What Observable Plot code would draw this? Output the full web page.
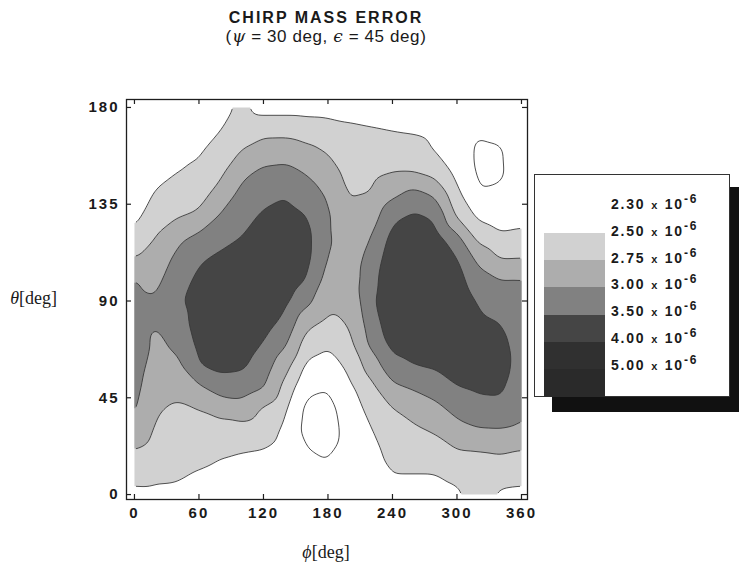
<!DOCTYPE html>
<html>
<head>
<meta charset="utf-8">
<script src="https://cdn.jsdelivr.net/npm/d3@7"></script>
<script src="https://cdn.jsdelivr.net/npm/@observablehq/plot@0.6"></script>
<style>
  html, body { margin: 0; padding: 0; background: #fff; }
  #wrap { position: relative; width: 739px; height: 567px; overflow: hidden; color: #1a1a1a;
          font-family: "Liberation Sans", Arial, sans-serif; }
  #chart { position: absolute; left: 0; top: 0; }
  .title { position: absolute; left: 0; width: 652px; text-align: center; white-space: nowrap; }
  #t1 { top: 10px; font-size: 16px; line-height: 16px; font-weight: bold; letter-spacing: 2px; }
  #t2 { top: 28px; font-size: 17px; line-height: 17px; letter-spacing: 0.6px; }
  #t2 i { font-family: "DejaVu Serif", "Liberation Serif", serif; }
  .axlab { position: absolute; font-family: "Liberation Serif", "DejaVu Serif", serif; font-size: 18px; line-height: 18px; white-space: nowrap; }
  #ylab { right: 682px; top: 289px; text-align: right; }
  #xlab { left: 0; width: 652px; text-align: center; top: 543px; }
  #shadow { position: absolute; left: 552px; top: 187px; width: 200px; height: 225px; background: #111; }
  #legend { position: absolute; left: 534px; top: 174px; width: 194px; height: 221px; background: #fff; border: 1px solid #333; }
  .sw { position: absolute; left: 9px; width: 61px; }
  .lab { position: absolute; left: 76px; font-size: 14px; line-height: 16px; font-weight: bold; letter-spacing: 1.8px; white-space: nowrap; }
  .lab .x { font-size: 11px; }
  .lab sup { font-size: 12px; line-height: 0; vertical-align: 6px; }
</style>
</head>
<body>
<div id="wrap">
  <div id="chart"></div>
  <div class="title" id="t1">CHIRP MASS ERROR</div>
  <div class="title" id="t2">(<i>ψ</i> = 30 deg, <i>ϵ</i> = 45 deg)</div>
  <div class="axlab" id="ylab"><i>θ</i>[deg]</div>
  <div class="axlab" id="xlab"><i>ϕ</i>[deg]</div>
  <div id="shadow"></div>
  <div id="legend"></div>
</div>
<script>
// Grid of azimuth phi (deg) and polar angle theta (deg)
const phiDeg = [0, 20, 40, 60, 80, 100, 120, 140, 160, 180, 200, 220, 240, 260, 280, 300, 320, 340, 360];
const thetaDeg = [0, 10, 20, 30, 40, 50, 60, 70, 80, 90, 100, 110, 120, 130, 140, 150, 160, 170, 180];

// Chirp mass error (units of 1e-6), one row per theta, values across phi
const err_t000 = [2.26,2.27,2.27,2.24,2.20,2.20,2.20,2.20,2.18,2.17,2.18,2.20,2.25,2.25,2.25,2.27,2.37,2.27,2.26];
const err_t010 = [2.36,2.33,2.32,2.29,2.26,2.25,2.25,2.22,2.15,2.13,2.17,2.21,2.30,2.30,2.30,2.34,2.42,2.38,2.36];
const err_t020 = [2.48,2.39,2.37,2.36,2.32,2.30,2.29,2.24,2.11,2.08,2.17,2.24,2.36,2.38,2.41,2.48,2.49,2.52,2.48];
const err_t030 = [2.70,2.46,2.42,2.43,2.43,2.42,2.38,2.27,2.03,2.02,2.17,2.29,2.42,2.46,2.52,2.66,2.73,2.74,2.70];
const err_t040 = [2.79,2.52,2.47,2.50,2.57,2.64,2.47,2.33,2.05,2.04,2.20,2.36,2.49,2.59,2.68,2.83,2.92,2.93,2.79];
const err_t050 = [2.83,2.58,2.56,2.71,2.89,2.88,2.77,2.43,2.15,2.11,2.26,2.44,2.70,2.78,2.87,3.00,3.04,3.05,2.83];
const err_t060 = [2.87,2.64,2.69,3.00,3.06,3.04,2.88,2.58,2.26,2.22,2.34,2.60,2.93,3.00,3.03,3.08,3.11,3.13,2.87];
const err_t070 = [2.88,2.70,2.80,3.06,3.14,3.12,2.99,2.79,2.39,2.32,2.43,2.81,3.07,3.09,3.11,3.17,3.12,3.08,2.88];
const err_t080 = [2.84,2.76,2.87,3.12,3.21,3.21,3.10,2.94,2.56,2.45,2.52,2.87,3.16,3.18,3.18,3.25,3.05,3.00,2.84];
const err_t090 = [2.79,2.77,2.95,3.12,3.21,3.30,3.20,3.06,2.82,2.56,2.57,2.93,3.25,3.26,3.26,3.17,2.97,2.88,2.79];
const err_t100 = [2.76,2.69,2.89,3.05,3.13,3.20,3.30,3.15,3.00,2.65,2.63,2.87,3.25,3.35,3.26,3.09,2.85,2.75,2.76];
const err_t110 = [2.49,2.59,2.81,2.97,3.04,3.10,3.21,3.25,3.07,2.73,2.64,2.82,3.16,3.24,3.17,3.01,2.67,2.48,2.49];
const err_t120 = [2.34,2.50,2.68,2.80,2.92,3.00,3.12,3.16,3.07,2.78,2.59,2.74,3.07,3.14,3.08,2.81,2.40,2.32,2.34];
const err_t130 = [2.24,2.41,2.47,2.53,2.77,2.91,3.03,3.08,3.00,2.78,2.53,2.62,2.94,3.03,2.96,2.45,2.26,2.22,2.24];
const err_t140 = [2.22,2.31,2.38,2.42,2.58,2.82,2.92,2.98,2.87,2.71,2.48,2.50,2.69,2.82,2.70,2.34,2.11,2.13,2.22];
const err_t150 = [2.21,2.26,2.295,2.33,2.45,2.69,2.80,2.83,2.73,2.60,2.43,2.44,2.49,2.49,2.41,2.26,2.07,2.07,2.21];
const err_t160 = [2.19,2.22,2.26,2.28,2.37,2.50,2.61,2.62,2.55,2.48,2.38,2.37,2.38,2.36,2.29,2.20,2.07,2.08,2.19];
const err_t170 = [2.17,2.19,2.22,2.24,2.29,2.40,2.42,2.42,2.39,2.37,2.33,2.31,2.29,2.28,2.26,2.19,2.12,2.15,2.17];
const err_t180 = [2.15,2.15,2.18,2.20,2.25,2.33,2.23,2.23,2.23,2.23,2.23,2.22,2.22,2.22,2.21,2.18,2.20,2.20,2.15];

// Contour levels, shading and legend text
const contourLevels = [2.10, 2.30, 2.50, 2.75, 3.00, 3.50];
const shadeBreaks = [2.30, 2.50, 2.75, 3.00, 3.50, 4.00];
const shadeColors = ["#ffffff", "#d1d1d1", "#adadad", "#818181", "#454545", "#303030", "#2a2a2a"];
const legendLabels = ["2.30", "2.50", "2.75", "3.00", "3.50", "4.00", "5.00"];
const xTicks = [0, 60, 120, 180, 240, 300, 360];
const yTicks = [0, 45, 90, 135, 180];

const rows = [err_t000, err_t010, err_t020, err_t030, err_t040, err_t050, err_t060, err_t070, err_t080, err_t090,
              err_t100, err_t110, err_t120, err_t130, err_t140, err_t150, err_t160, err_t170, err_t180];
const samples = [];
thetaDeg.forEach((t, j) => phiDeg.forEach((p, i) => samples.push({phi: p, theta: t, err: rows[j][i]})));

const W = 739, H = 567, mL = 126, mR = 212, mT = 99, mB = 68;
const frameW = W - mL - mR, frameH = H - mT - mB, tickLen = 5;

const bounds = {x1: phiDeg[0], x2: phiDeg[phiDeg.length - 1], y1: thetaDeg[0], y2: thetaDeg[thetaDeg.length - 1]};
const contourOpts = {x: "phi", y: "theta", fill: "err", thresholds: contourLevels,
                     interpolate: "barycentric", pixelSize: 1, blur: 4, ...bounds};

const chart = Plot.plot({
  width: W, height: H,
  marginLeft: mL, marginRight: mR, marginTop: mT, marginBottom: mB,
  x: {domain: [-7.4, 365.6]},
  y: {domain: [-2.3, 183.7]},
  color: {type: "threshold", domain: shadeBreaks, range: shadeColors},
  style: {fontFamily: "'Liberation Sans', Arial, sans-serif", fontSize: "15px", fontWeight: "bold",
          letterSpacing: "2px", color: "#1a1a1a", background: "transparent"},
  marks: [
    // shaded bands
    Plot.contour(samples, {...contourOpts, stroke: "none"}),
    // contour lines
    Plot.contour(samples, {...contourOpts, fill: null, value: "err", stroke: "#383838", strokeWidth: 0.9}),
    Plot.frame({stroke: "#1e1e1e", strokeWidth: 1.3}),
    // tick labels
    Plot.axisX(xTicks, {anchor: "bottom", tickSize: 0, tickPadding: 8, label: null}),
    Plot.axisY(yTicks, {anchor: "left", tickSize: 0, tickPadding: 7, label: null}),
    // inward tick marks on all four sides
    Plot.tickX(xTicks, {x: d => d, insetTop: frameH - tickLen, stroke: "#1e1e1e", strokeWidth: 1.2}),
    Plot.tickX(xTicks, {x: d => d, insetBottom: frameH - tickLen, stroke: "#1e1e1e", strokeWidth: 1.2}),
    Plot.tickY(yTicks, {y: d => d, insetRight: frameW - tickLen, stroke: "#1e1e1e", strokeWidth: 1.2}),
    Plot.tickY(yTicks, {y: d => d, insetLeft: frameW - tickLen, stroke: "#1e1e1e", strokeWidth: 1.2})
  ]
});

// hide the strokes that d3-contour puts along the border of the sampled region
const sx = chart.scale("x"), sy = chart.scale("y");
const ns = "http://www.w3.org/2000/svg";
const defs = document.createElementNS(ns, "defs");
const cp = document.createElementNS(ns, "clipPath");
cp.setAttribute("id", "lineClip");
const rect = document.createElementNS(ns, "rect");
const inset = 1.5;
const rx0 = sx.apply(bounds.x1), rx1 = sx.apply(bounds.x2), ry0 = sy.apply(bounds.y2), ry1 = sy.apply(bounds.y1);
rect.setAttribute("x", rx0 + inset);
rect.setAttribute("y", ry0 + inset);
rect.setAttribute("width", rx1 - rx0 - 2 * inset);
rect.setAttribute("height", ry1 - ry0 - 2 * inset);
cp.appendChild(rect);
defs.appendChild(cp);
chart.insertBefore(defs, chart.firstChild);
const groups = chart.querySelectorAll('g[aria-label="contour"]');
if (groups.length > 1) groups[1].setAttribute("clip-path", "url(#lineClip)");

document.getElementById("chart").appendChild(chart);

// legend built from the chart's colour scale
const legend = document.getElementById("legend");
const range = chart.scale("color").range;
const swH = 27.2;
range.slice(1).forEach((c, i) => {
  const d = document.createElement("div");
  d.className = "sw";
  d.style.top = (58 + i * swH) + "px";
  d.style.height = (swH + 0.5) + "px";
  d.style.background = c;
  legend.appendChild(d);
});
legendLabels.forEach((s, i) => {
  const d = document.createElement("div");
  d.className = "lab";
  d.style.top = (21 + i * 26.75) + "px";
  d.innerHTML = s + ' <span class="x">x</span> 10<sup>-6</sup>';
  legend.appendChild(d);
});
</script>
</body>
</html>
